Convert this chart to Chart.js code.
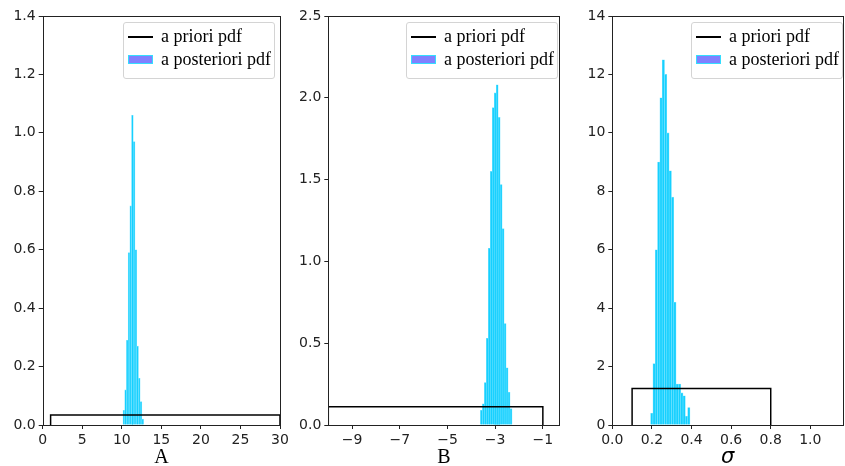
<!DOCTYPE html>
<html><head><meta charset="utf-8">
<script src="https://cdn.jsdelivr.net/npm/chart.js@4.4.0/dist/chart.umd.min.js"></script>
<style>
html,body{margin:0;padding:0;background:#fff;overflow:hidden;}
body{width:845px;height:466px;position:relative;}
.pane{position:absolute;top:0;}
.legend{position:absolute;background:rgba(255,255,255,0.85);border:1px solid #d4d4d4;border-radius:3px;box-sizing:border-box;font-family:'Liberation Serif','Times New Roman',serif;font-size:18px;color:#000;}
.row{position:absolute;left:0;right:0;height:23px;}
.txt{position:absolute;left:37px;top:0;line-height:23px;white-space:nowrap;}
.lineSample{position:absolute;left:4px;width:25px;top:11px;height:0;border-top:2px solid #000;}
.patch{position:absolute;left:4px;width:25px;top:7px;height:9px;box-sizing:border-box;background:#8080ff;border:1.5px solid #33ddff;}
</style>
</head><body>
<canvas id="c1" class="pane" style="left:0px"></canvas>
<canvas id="c2" class="pane" style="left:290px"></canvas>
<canvas id="c3" class="pane" style="left:570px"></canvas>
<script>
// ---------- data ----------
const legendLabels = ['a priori pdf', 'a posteriori pdf'];
const axisTitles = ['A', 'B', 'σ'];

// a priori pdf (uniform boxes)
const priorAx = [1, 1, 30, 30];
const priorAy = [0, 0.0345, 0.0345, 0];
const priorBx = [-10, -10, -1, -1];
const priorBy = [0, 0.111, 0.111, 0];
const priorSx = [0.1, 0.1, 0.8, 0.8];
const priorSy = [0, 1.25, 1.25, 0];

// a posteriori pdf (histograms): first bin edge, bin width, densities
const histAStart = 10.15, histAWidth = 0.217;
const histAHeights = [0.05, 0.12, 0.29, 0.59, 0.75, 1.06, 0.97, 0.60, 0.27, 0.16, 0.08, 0.02];
const histBStart = -3.62, histBWidth = 0.083;
const histBHeights = [0.09, 0.13, 0.26, 0.53, 1.08, 1.55, 1.94, 2.03, 2.08, 1.88, 1.47, 1.20, 0.62, 0.35, 0.20, 0.10];
const histSStart = 0.1934, histSWidth = 0.0117;
const histSHeights = [0.4, 2.1, 6.0, 9.0, 11.2, 12.5, 12.0, 10.0, 8.7, 7.8, 4.2, 1.4, 1.4, 1.1, 1.0, 0.3, 0.6];

// tick labels
const xTicksA = [0, 5, 10, 15, 20, 25, 30];
const xTicksB = [-9, -7, -5, -3, -1];
const xTicksS = [0.0, 0.2, 0.4, 0.6, 0.8, 1.0];
const yTicksA = [0.0, 0.2, 0.4, 0.6, 0.8, 1.0, 1.2, 1.4];
const yTicksB = [0.0, 0.5, 1.0, 1.5, 2.0, 2.5];
const yTicksS = [0, 2, 4, 6, 8, 10, 12, 14];

// ---------- rendering ----------
Chart.defaults.font.family = "'DejaVu Sans', sans-serif";
Chart.defaults.font.size = 14;
Chart.defaults.color = '#222';

const framePlugin = {
  id: 'frame',
  afterDatasetsDraw(chart) {
    const {ctx, chartArea: a} = chart;
    ctx.save();
    ctx.strokeStyle = '#222';
    ctx.lineWidth = 1;
    ctx.strokeRect(Math.round(a.left) + 0.5, Math.round(a.top) + 0.5,
                   Math.round(a.right) - Math.round(a.left), Math.round(a.bottom) - Math.round(a.top));
    ctx.restore();
  }
};

function fmtMinus(v, dec) {
  const s = Math.abs(v).toFixed(dec);
  return (v < 0 ? '\u2212' : '') + s;
}

function makePanel(cfg) {
  const canvas = document.getElementById(cfg.id);
  canvas.width = cfg.cw; canvas.height = 466;
  canvas.style.width = cfg.cw + 'px'; canvas.style.height = '466px';
  const bars = cfg.heights.map((h, i) => ({x: cfg.start + cfg.width * (i + 0.5), y: h}));
  const prior = cfg.px.map((x, i) => ({x: x, y: cfg.py[i]}));
  new Chart(canvas, {
    type: 'bar',
    data: {
      datasets: [
        {type: 'line', label: legendLabels[0], data: prior, borderColor: '#000', borderWidth: 1.5,
         pointRadius: 0, fill: false, tension: 0, order: 0},
        {type: 'bar', label: legendLabels[1], data: bars, backgroundColor: 'rgb(22,208,255)',
         borderColor: 'rgb(120,228,255)', borderWidth: 0.6, barPercentage: 1, categoryPercentage: 1, order: 1}
      ]
    },
    options: {
      responsive: false, animation: false, devicePixelRatio: 1,
      layout: {padding: {top: 16, right: cfg.padR, left: 0, bottom: 0}},
      plugins: {legend: {display: false}, tooltip: {enabled: false}},
      scales: {
        x: {
          type: 'linear', min: cfg.xmin, max: cfg.xmax, offset: false,
          afterFit: s => { s.height = 41; },
          afterBuildTicks: s => { s.ticks = cfg.xticks.map(v => ({value: v})); },
          ticks: {padding: 3, maxRotation: 0, autoSkip: false, color: '#222',
                  callback: v => fmtMinus(v, cfg.xdec)},
          grid: {display: true, offset: false, drawOnChartArea: false, drawTicks: true, tickLength: 4, tickColor: '#222', tickWidth: 1},
          border: {display: false},
          title: {display: true, text: cfg.title, color: '#000', padding: {top: 0, bottom: 0},
                  font: {family: cfg.titleFamily, size: cfg.titleSize, style: cfg.titleStyle, lineHeight: 0.8}}
        },
        y: {
          type: 'linear', min: 0, max: cfg.ymax,
          afterFit: s => { s.width = cfg.yw; },
          afterBuildTicks: s => { s.ticks = cfg.yticks.map(v => ({value: v})); },
          ticks: {padding: 3, color: '#222', callback: v => fmtMinus(v, cfg.ydec)},
          grid: {display: true, offset: false, drawOnChartArea: false, drawTicks: true, tickLength: 4, tickColor: '#222', tickWidth: 1},
          border: {display: false}
        }
      }
    },
    plugins: [framePlugin]
  });
  // legend (HTML text), placed at top right inside the plot area
  const lg = document.createElement('div');
  lg.className = 'legend';
  lg.style.left = cfg.legLeft + 'px';
  lg.style.top = '22px';
  lg.style.width = '152px';
  lg.style.height = '57px';
  legendLabels.forEach((lab, i) => {
    const row = document.createElement('div');
    row.className = 'row';
    row.style.top = (i === 0 ? 1.5 : 24.5) + 'px';
    const sample = document.createElement('div');
    sample.className = i === 0 ? 'lineSample' : 'patch';
    const t = document.createElement('div');
    t.className = 'txt';
    t.textContent = lab;
    row.appendChild(sample); row.appendChild(t);
    lg.appendChild(row);
  });
  document.body.appendChild(lg);
}

const serif = "'Liberation Serif', 'Times New Roman', serif";
makePanel({id: 'c1', cw: 295, padR: 15, yw: 42.7, xmin: 0, xmax: 30, ymax: 1.4,
  xticks: xTicksA, yticks: yTicksA, xdec: 0, ydec: 1,
  start: histAStart, width: histAWidth, heights: histAHeights, px: priorAx, py: priorAy,
  title: axisTitles[0], titleFamily: serif, titleSize: 20, titleStyle: 'normal', legLeft: 123});
makePanel({id: 'c2', cw: 280, padR: 10.7, yw: 38.3, xmin: -10, xmax: -0.31, ymax: 2.5,
  xticks: xTicksB, yticks: yTicksB, xdec: 0, ydec: 1,
  start: histBStart, width: histBWidth, heights: histBHeights, px: priorBx, py: priorBy,
  title: axisTitles[1], titleFamily: serif, titleSize: 20, titleStyle: 'normal', legLeft: 406});
makePanel({id: 'c3', cw: 275, padR: 2, yw: 42.3, xmin: 0, xmax: 1.165, ymax: 14,
  xticks: xTicksS, yticks: yTicksS, xdec: 1, ydec: 0,
  start: histSStart, width: histSWidth, heights: histSHeights, px: priorSx, py: priorSy,
  title: axisTitles[2], titleFamily: "'DejaVu Sans', sans-serif", titleSize: 21, titleStyle: 'oblique', legLeft: 691});
</script>
</body></html>
